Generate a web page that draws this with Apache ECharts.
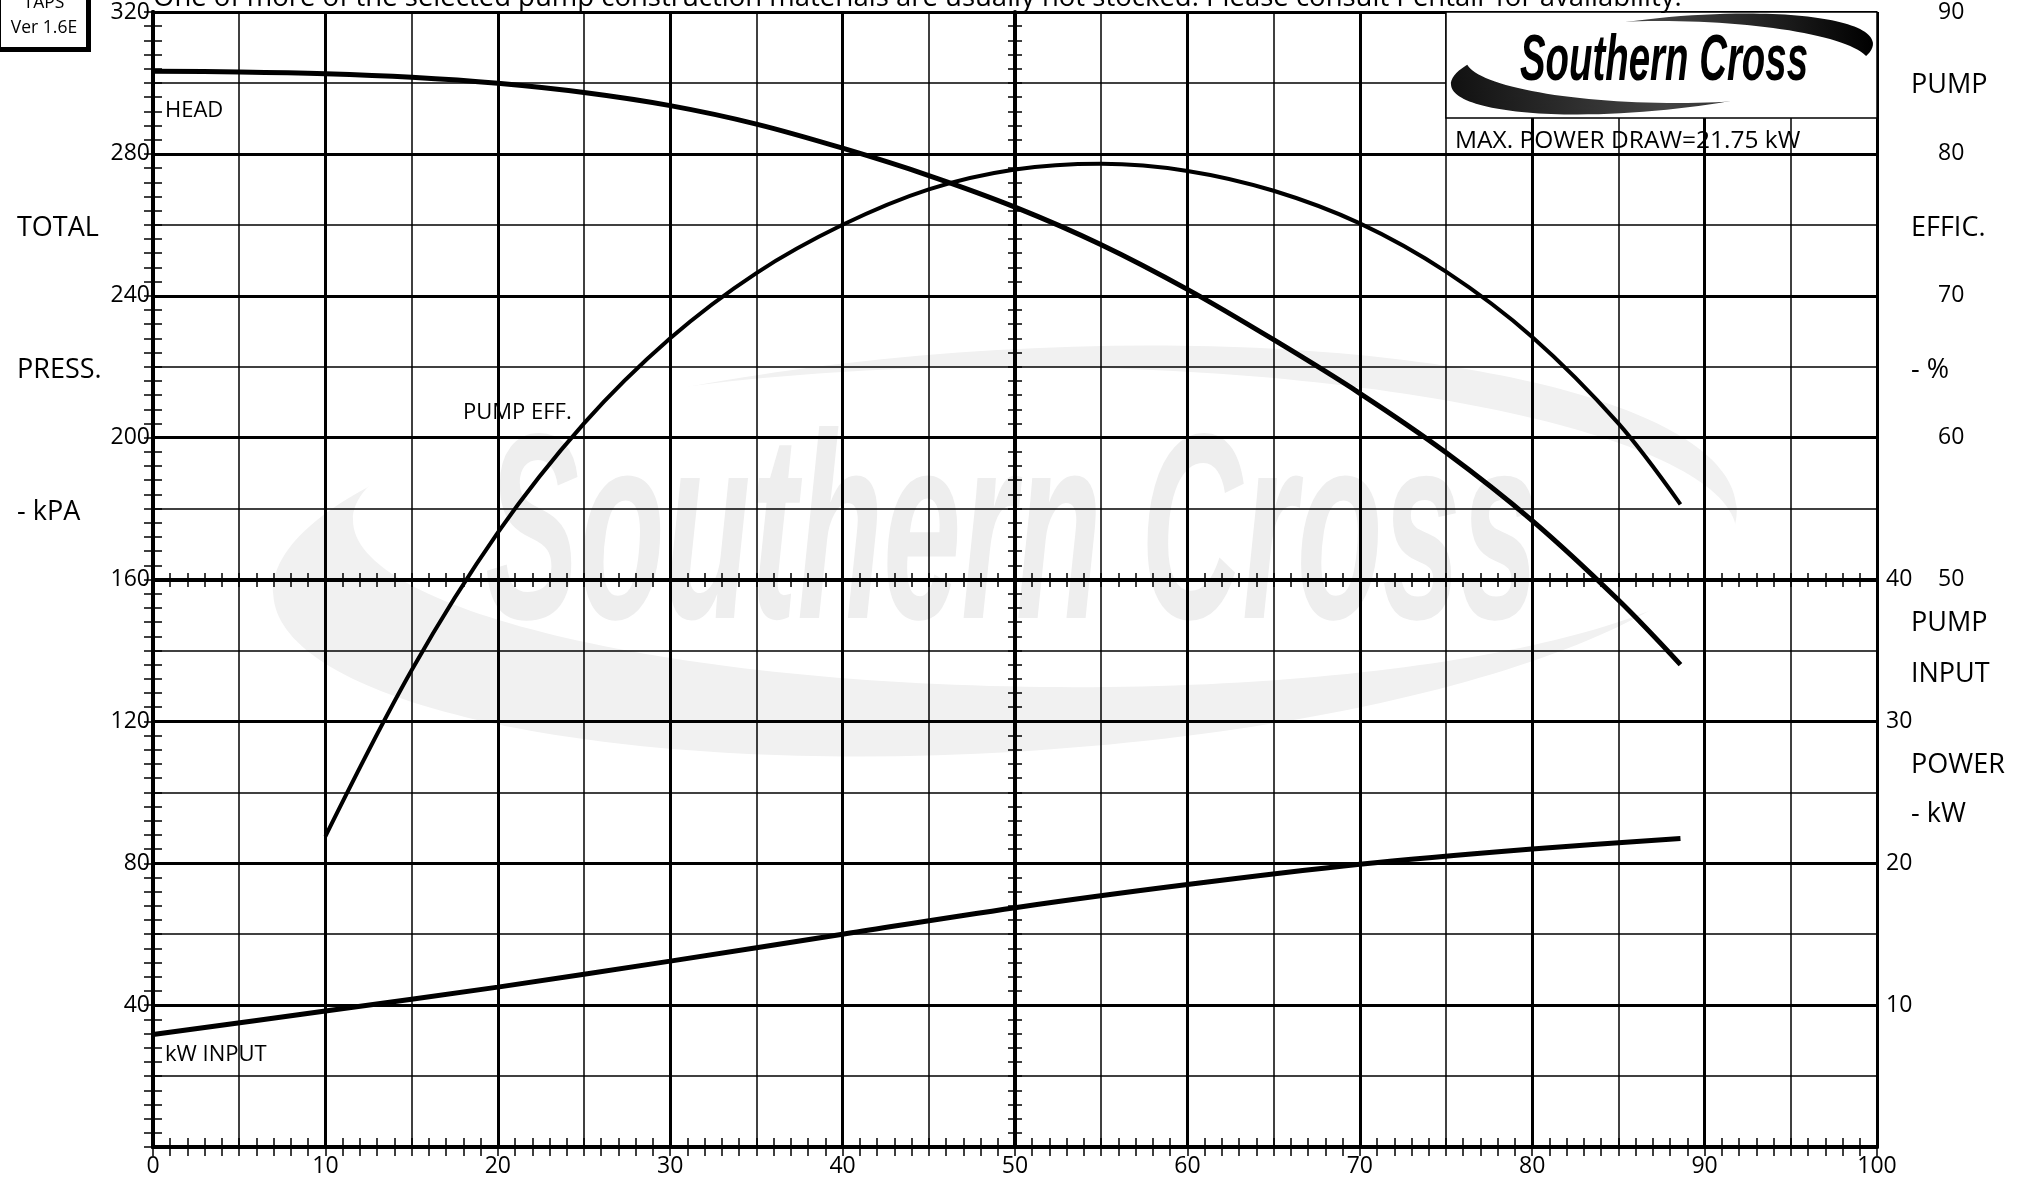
<!DOCTYPE html>
<html>
<head>
<meta charset="utf-8">
<script src="https://cdn.jsdelivr.net/npm/echarts@6/dist/echarts.min.js"></script>
<style>
html,body{margin:0;padding:0;background:#fff;}
#chart{width:2034px;height:1179px;}
</style>
</head>
<body>
<div id="chart"></div>
<script>
// ---- data ----
const headFlow = [0, 5, 10, 15, 20, 25, 30, 35, 40, 45, 50, 55, 60, 65, 70, 75, 80, 85, 88.6];
const headKpa  = [303.3, 303.1, 302.6, 301.6, 299.9, 297.3, 293.6, 288.4, 281.6, 273.9, 265.0, 254.4, 241.8, 227.6, 212.5, 195.8, 176.6, 154.2, 136.0];

const effFlow = [10, 15, 20, 25, 30, 35, 40, 45, 50, 55, 60, 65, 70, 75, 80, 85, 88.6];
const effPct  = [31.9, 43.6, 53.3, 61.0, 67.0, 71.6, 75.0, 77.5, 78.9, 79.3, 78.8, 77.4, 75.1, 71.7, 67.1, 61.0, 55.3];

const powFlow = [0, 10, 20, 30, 40, 50, 60, 70, 80, 88.6];
const powKw   = [7.93, 9.58, 11.27, 13.1, 15.0, 16.87, 18.5, 19.93, 21.0, 21.75];

const xTickLabels = ['0','10','20','30','40','50','60','70','80','90','100'];
const kpaTickLabels = ['320','280','240','200','160','120','80','40'];
const effTickLabels = ['90','80','70','60','50'];
const kwTickLabels = ['40','30','20','10'];

const zip = (a, b) => a.map((v, i) => [v, b[i]]);
const FONT = 'Open Sans';
const BLACK = '#000';

const chart = echarts.init(document.getElementById('chart'), null, {renderer: 'canvas'});

const minorTicks = (len) => ({show: true, splitNumber: 10, length: len, lineStyle: {color: BLACK, width: 1.5}});
const yLabel = (list, margin) => ({show: true, color: BLACK, fontSize: 23, fontFamily: FONT, margin: margin,
  padding: [7, 0, 0, 0],
  formatter: v => list.includes(String(v)) ? String(v) : '', showMinLabel: true, showMaxLabel: true});

const option = {
  animation: false,
  backgroundColor: '#fff',
  grid: {left: 153, right: 157, top: 12, bottom: 32, containLabel: false, outerBoundsMode: 'none'},
  xAxis: [
    { // main bottom axis
      type: 'value', position: 'bottom', min: 0, max: 100, interval: 10,
      axisLine: {show: true, lineStyle: {color: BLACK, width: 4}},
      axisTick: {show: true, inside: true, length: 9, lineStyle: {color: BLACK, width: 1.5}},
      minorTick: minorTicks(9),
      splitLine: {show: true, lineStyle: {color: BLACK, width: 3}},
      axisLabel: {show: true, color: BLACK, fontSize: 23, fontFamily: FONT, margin: 8,
        formatter: v => xTickLabels.includes(String(v)) ? String(v) : '', showMinLabel: true, showMaxLabel: true}
    },
    { // minor vertical grid every 5
      type: 'value', position: 'bottom', min: 0, max: 100, interval: 5,
      axisLine: {show: false}, axisTick: {show: false}, axisLabel: {show: false},
      splitLine: {show: true, lineStyle: {color: BLACK, width: 1.5}}
    },
    { // top border with ticks
      type: 'value', position: 'top', min: 0, max: 100, interval: 10,
      axisLine: {show: true, lineStyle: {color: BLACK, width: 4}},
      axisTick: {show: true, inside: true, length: 9, lineStyle: {color: BLACK, width: 1.5}},
      minorTick: minorTicks(9),
      splitLine: {show: false}, axisLabel: {show: false}
    },
    { // mid line (160 kPa) ticks upward
      type: 'value', position: 'bottom', offset: -567, min: 0, max: 100, interval: 10,
      axisLine: {show: true, lineStyle: {color: BLACK, width: 4}},
      axisTick: {show: true, inside: true, length: 7, lineStyle: {color: BLACK, width: 1.5}},
      minorTick: minorTicks(7),
      splitLine: {show: false}, axisLabel: {show: false}
    },
    { // mid line ticks downward
      type: 'value', position: 'bottom', offset: -567, min: 0, max: 100, interval: 10,
      axisLine: {show: false},
      axisTick: {show: true, inside: false, length: 7, lineStyle: {color: BLACK, width: 1.5}},
      minorTick: minorTicks(7),
      splitLine: {show: false}, axisLabel: {show: false}
    }
  ],
  yAxis: [
    { // 0: total pressure kPa
      type: 'value', position: 'left', min: 0, max: 320, interval: 40,
      axisLine: {show: true, lineStyle: {color: BLACK, width: 4}},
      axisTick: {show: true, inside: true, length: 9, lineStyle: {color: BLACK, width: 1.5}},
      minorTick: minorTicks(9),
      splitLine: {show: true, lineStyle: {color: BLACK, width: 3}},
      axisLabel: yLabel(kpaTickLabels, 3)
    },
    { // 1: minor horizontal grid every 20
      type: 'value', position: 'left', min: 0, max: 320, interval: 20,
      axisLine: {show: false}, axisTick: {show: false}, axisLabel: {show: false},
      splitLine: {show: true, lineStyle: {color: BLACK, width: 1.5}}
    },
    { // 2: right border with ticks
      type: 'value', position: 'right', min: 0, max: 320, interval: 40,
      axisLine: {show: true, lineStyle: {color: BLACK, width: 4}},
      axisTick: {show: true, inside: true, length: 9, lineStyle: {color: BLACK, width: 1.5}},
      minorTick: minorTicks(9),
      splitLine: {show: false}, axisLabel: {show: false}
    },
    { // 3: centre vertical (flow 50) ticks right
      type: 'value', position: 'left', offset: -862, min: 0, max: 320, interval: 40,
      axisLine: {show: true, lineStyle: {color: BLACK, width: 4}},
      axisTick: {show: true, inside: true, length: 7, lineStyle: {color: BLACK, width: 1.5}},
      minorTick: minorTicks(7),
      splitLine: {show: false}, axisLabel: {show: false}
    },
    { // 4: centre vertical ticks left
      type: 'value', position: 'left', offset: -862, min: 0, max: 320, interval: 40,
      axisLine: {show: false},
      axisTick: {show: true, inside: false, length: 7, lineStyle: {color: BLACK, width: 1.5}},
      minorTick: minorTicks(7),
      splitLine: {show: false}, axisLabel: {show: false}
    },
    { // 5: pump efficiency %
      type: 'value', position: 'right', min: 10, max: 90, interval: 10,
      axisLine: {show: false}, axisTick: {show: false}, splitLine: {show: false},
      axisLabel: yLabel(effTickLabels, 61)
    },
    { // 6: pump input power kW
      type: 'value', position: 'right', min: 0, max: 80, interval: 10,
      axisLine: {show: false}, axisTick: {show: false}, splitLine: {show: false},
      axisLabel: yLabel(kwTickLabels, 9)
    }
  ],
  series: [
    {name: 'HEAD', type: 'line', xAxisIndex: 0, yAxisIndex: 0, data: zip(headFlow, headKpa),
      smooth: 0.33, showSymbol: false, symbol: 'none', lineStyle: {color: BLACK, width: 5}, z: 5},
    {name: 'PUMP EFF.', type: 'line', xAxisIndex: 0, yAxisIndex: 5, data: zip(effFlow, effPct),
      smooth: 0.33, showSymbol: false, symbol: 'none', lineStyle: {color: BLACK, width: 4}, z: 5},
    {name: 'kW INPUT', type: 'line', xAxisIndex: 0, yAxisIndex: 6, data: zip(powFlow, powKw),
      smooth: 0.33, showSymbol: false, symbol: 'none', lineStyle: {color: BLACK, width: 5}, z: 5}
  ],
  graphic: [
    // watermark
    {type: 'ellipse', z: -5, silent: true, x: 1005, y: 551, rotation: 0.06,
      shape: {cx: 0, cy: 0, rx: 733, ry: 201}, style: {fill: '#f1f1f1'}},
    {type: 'ellipse', z: -4, silent: true, x: 1045, y: 527, rotation: -0.01,
      shape: {cx: 0, cy: 0, rx: 692, ry: 160}, style: {fill: '#ffffff'}},
    {type: 'text', z: -3, silent: true, x: 1012, y: 545, scaleX: 0.53,
      style: {text: 'Southern Cross', fontFamily: 'Liberation Sans', fontWeight: 'bold', fontStyle: 'italic',
        fontSize: 265, fill: '#eeeeee', align: 'center', verticalAlign: 'middle'}},
    // logo box
    {type: 'rect', z: 20, shape: {x: 1446, y: 12, width: 431, height: 106},
      style: {fill: '#fff', stroke: BLACK, lineWidth: 1.5}},
    {type: 'ellipse', z: 21, x: 1662, y: 64, rotation: 0.1,
      shape: {cx: 0, cy: 0, rx: 212, ry: 46},
      style: {fill: new echarts.graphic.LinearGradient(0, 0, 1, 0, [
        {offset: 0, color: '#111'}, {offset: 0.5, color: '#444'}, {offset: 1, color: '#000'}])}},
    {type: 'ellipse', z: 22, x: 1668, y: 62, rotation: -0.01,
      shape: {cx: 0, cy: 0, rx: 202, ry: 41}, style: {fill: '#fff'}},
    {type: 'text', z: 23, x: 1664, y: 62, scaleX: 0.6,
      style: {text: 'Southern Cross', fontFamily: 'Liberation Sans', fontWeight: 'bold', fontStyle: 'italic',
        fontSize: 64, fill: BLACK, stroke: '#fff', lineWidth: 3, align: 'center', verticalAlign: 'middle'}},
    {type: 'text', z: 23, x: 1455, y: 141,
      style: {text: 'MAX. POWER DRAW=21.75 kW', fontFamily: FONT, fontSize: 24.5, fill: BLACK, align: 'left', verticalAlign: 'middle'}},
    // TAPS box
    {type: 'rect', z: 20, shape: {x: -3, y: -10, width: 90, height: 58},
      style: {fill: '#fff', stroke: BLACK, lineWidth: 2, shadowColor: BLACK, shadowOffsetX: 3, shadowOffsetY: 3, shadowBlur: 0}},
    {type: 'text', z: 21, x: 44, y: 3, style: {text: 'TAPS', fontFamily: FONT, fontSize: 17.5, fill: BLACK, align: 'center', verticalAlign: 'middle'}},
    {type: 'text', z: 21, x: 44, y: 28, style: {text: 'Ver 1.6E', fontFamily: FONT, fontSize: 17.5, fill: BLACK, align: 'center', verticalAlign: 'middle'}},
    // note at top
    {type: 'text', z: 21, x: 153, y: -2,
      style: {text: 'One of more of the selected pump construction materials are usually not stocked. Please consult Pentair for availability.',
        fontFamily: FONT, fontSize: 27.5, fill: BLACK, align: 'left', verticalAlign: 'middle'}},
    // curve labels
    {type: 'text', z: 21, x: 165, y: 111, style: {text: 'HEAD', fontFamily: FONT, fontSize: 22, fill: BLACK, align: 'left', verticalAlign: 'middle'}},
    {type: 'text', z: 21, x: 463, y: 413, style: {text: 'PUMP EFF.', fontFamily: FONT, fontSize: 22, fill: BLACK, align: 'left', verticalAlign: 'middle'}},
    {type: 'text', z: 21, x: 165, y: 1055, style: {text: 'kW INPUT', fontFamily: FONT, fontSize: 22, fill: BLACK, align: 'left', verticalAlign: 'middle'}},
    // left titles
    {type: 'text', z: 21, x: 17, y: 228, style: {text: 'TOTAL', fontFamily: FONT, fontSize: 27, fill: BLACK, align: 'left', verticalAlign: 'middle'}},
    {type: 'text', z: 21, x: 17, y: 370, style: {text: 'PRESS.', fontFamily: FONT, fontSize: 27, fill: BLACK, align: 'left', verticalAlign: 'middle'}},
    {type: 'text', z: 21, x: 17, y: 512, style: {text: '- kPA', fontFamily: FONT, fontSize: 27, fill: BLACK, align: 'left', verticalAlign: 'middle'}},
    // right titles
    {type: 'text', z: 21, x: 1911, y: 85, style: {text: 'PUMP', fontFamily: FONT, fontSize: 27, fill: BLACK, align: 'left', verticalAlign: 'middle'}},
    {type: 'text', z: 21, x: 1911, y: 228, style: {text: 'EFFIC.', fontFamily: FONT, fontSize: 27, fill: BLACK, align: 'left', verticalAlign: 'middle'}},
    {type: 'text', z: 21, x: 1911, y: 370, style: {text: '- %', fontFamily: FONT, fontSize: 27, fill: BLACK, align: 'left', verticalAlign: 'middle'}},
    {type: 'text', z: 21, x: 1911, y: 623, style: {text: 'PUMP', fontFamily: FONT, fontSize: 27, fill: BLACK, align: 'left', verticalAlign: 'middle'}},
    {type: 'text', z: 21, x: 1911, y: 674, style: {text: 'INPUT', fontFamily: FONT, fontSize: 27, fill: BLACK, align: 'left', verticalAlign: 'middle'}},
    {type: 'text', z: 21, x: 1911, y: 765, style: {text: 'POWER', fontFamily: FONT, fontSize: 27, fill: BLACK, align: 'left', verticalAlign: 'middle'}},
    {type: 'text', z: 21, x: 1911, y: 814, style: {text: '- kW', fontFamily: FONT, fontSize: 27, fill: BLACK, align: 'left', verticalAlign: 'middle'}}
  ]
};
chart.setOption(option);
</script>
</body>
</html>
